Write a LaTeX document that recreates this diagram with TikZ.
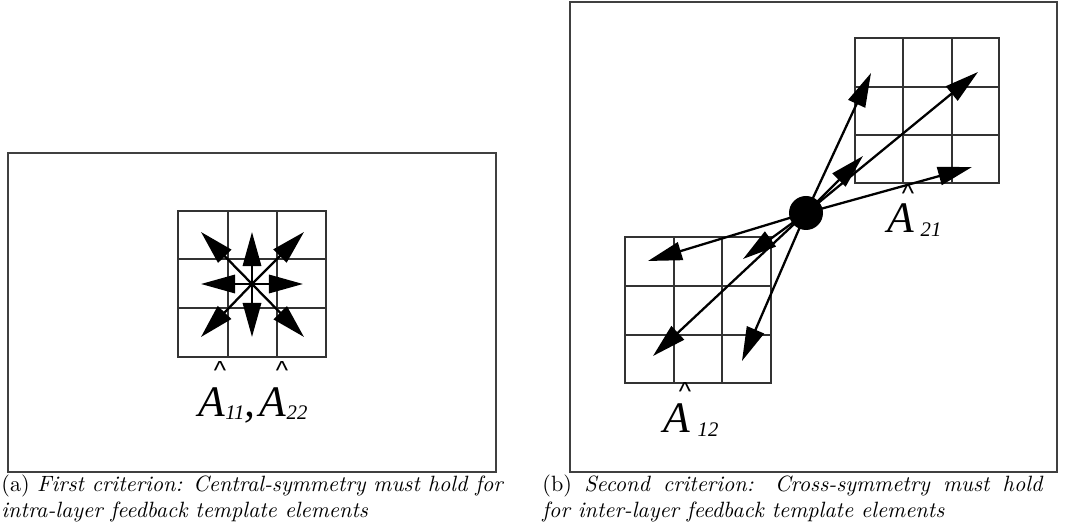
\documentclass[tikz,border=0pt]{standalone}
\usepackage{fontspec}
\newfontfamily\tms{Liberation Serif}
\newfontfamily\hel{Liberation Sans}
\usetikzlibrary{arrows.meta}
\begin{document}
\begin{tikzpicture}[x=0.4587pt,y=-0.4587pt,
  frame/.style={draw=black!75,line width=0.7pt},
  gridl/.style={draw=black!80,line width=0.6pt},
  arr/.style={line width=1.05pt,-{Triangle[length=15.6pt,width=8.4pt]}},
  bigA/.style={font=\tms\itshape\fontsize{20}{20}\selectfont,inner sep=0pt,anchor=base},
  subl/.style={font=\tms\itshape\fontsize{9.5}{9.5}\selectfont,inner sep=0pt,anchor=base},
  hatl/.style={font=\hel\fontsize{12}{12}\selectfont,inner sep=0pt,anchor=center},
  capt/.style={font=\fontsize{10.15}{12}\selectfont,inner sep=0pt,anchor=base west}]
\useasboundingbox (0,0) rectangle (1078,532);
% frames
\draw[frame] (8,153) rectangle (496,472);
\draw[frame] (570,2) rectangle (1057,472);
% ---- left panel grid
\draw[gridl] (178,211) rectangle (326,357);
\draw[gridl] (228,211) -- (228,357) (277,211) -- (277,357)
             (178,259) -- (326,259) (178,308) -- (326,308);
\coordinate (lc) at (252,284);
\coordinate (tN) at (252,232);
\coordinate (tS) at (252,337);
\coordinate (tW) at (201,284);
\coordinate (tE) at (303,284);
\coordinate (tNW) at (201,232);
\coordinate (tNE) at (304,232);
\coordinate (tSW) at (201,337);
\coordinate (tSE) at (304,337);
\foreach \t in {tN,tS,tW,tE,tNW,tNE,tSW,tSE}{\draw[arr] (lc) -- (\t);}
% labels left
\node[hatl] (h11) at (220,371) {\^{}};
\node[bigA] (A11) at (212,417) {A};
\node[subl] (s11) at (235,420) {11};
\node[bigA] (cm) at (250,417) {,};
\node[hatl] (h22) at (282,371) {\^{}};
\node[bigA] (A22) at (273,417) {A};
\node[subl] (s22) at (297,420) {22};
% ---- right panel grids
\draw[gridl] (855,38) rectangle (999,183);
\draw[gridl] (903,38) -- (903,183) (952,38) -- (952,183)
             (855,87) -- (999,87) (855,135) -- (999,135);
\draw[gridl] (625,237) rectangle (771,383);
\draw[gridl] (674,237) -- (674,383) (722,237) -- (722,383)
             (625,286) -- (771,286) (625,335) -- (771,335);
\coordinate (dc) at (806,213);
\coordinate (r1) at (871,73);
\coordinate (r2) at (978,72);
\coordinate (r3) at (863,156);
\coordinate (r4) at (972,167);
\coordinate (r5) at (648,261);
\coordinate (r6) at (743,259);
\coordinate (r7) at (653,356);
\coordinate (r8) at (742,361);
\foreach \t in {r1,r2,r3,r4,r5,r6,r7,r8}{\draw[arr] (dc) -- (\t);}
\node[circle,fill=black,minimum size=34*0.4587pt,inner sep=0pt] (dot) at (dc) {};
% labels right
\node[hatl] (h21) at (908,194) {\^{}};
\node[bigA] (A21) at (901,233) {A};
\node[subl] (s21) at (931,237) {21};
\node[hatl] (h12) at (685,392) {\^{}};
\node[bigA] (A12) at (677,433) {A};
\node[subl] (s12) at (708,437) {12};
% captions
\node[capt] (ca1) at (1,492) {(a) \textit{First criterion: Central-symmetry must hold for}};
\node[capt] (ca2) at (1,518) {\textit{intra-layer feedback template elements}};
\node[capt] (cb1) at (542,492) {\makebox[229.8pt][s]{(b) \textit{Second criterion: Cross-symmetry must hold}}};
\node[capt] (cb2) at (542,518) {\textit{for inter-layer feedback template elements}};
\end{tikzpicture}
\end{document}
